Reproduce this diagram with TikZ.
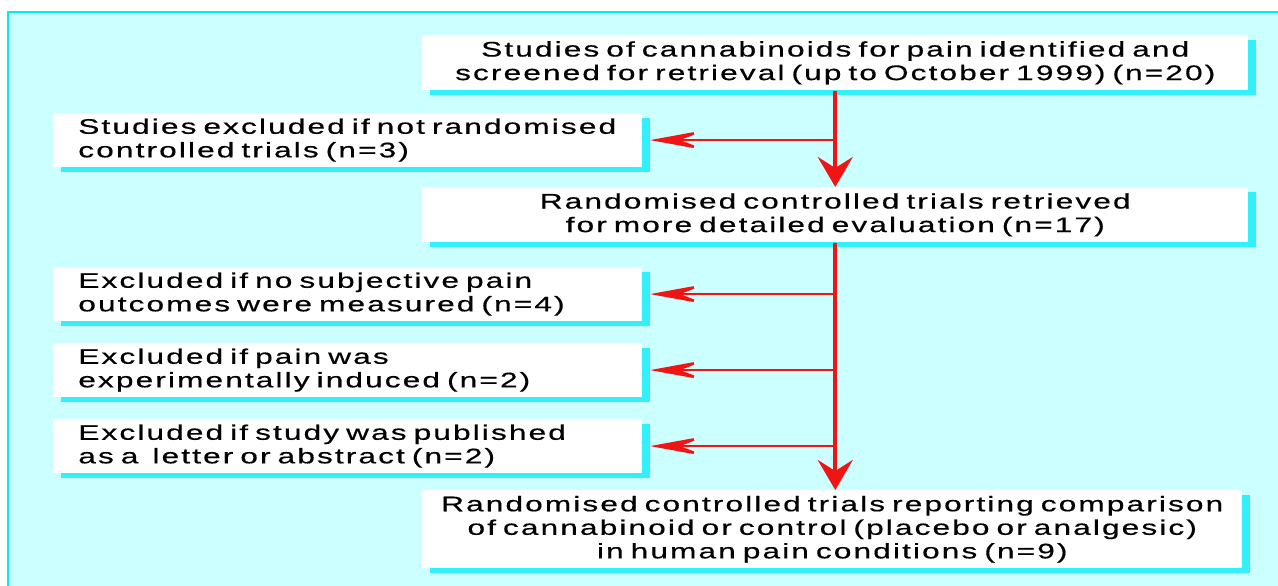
\documentclass[tikz,border=0pt]{standalone}
\usepackage{fontspec}
\newfontfamily\flowfont[FakeStretch=1.5,LetterSpace=10,WordSpace=2.1,FakeBold=0.5]{Liberation Sans}
\definecolor{panelcyan}{RGB}{204,255,255}
\definecolor{rimcyan}{RGB}{0,240,240}
\definecolor{shadecyan}{RGB}{50,240,250}
\definecolor{flowred}{RGB}{240,20,20}
\usetikzlibrary{arrows.meta,positioning,shadows}

\begin{document}
\begin{tikzpicture}[x=0.02cm,y=-0.02cm,
  stagebox/.style={fill=white,anchor=north west,inner sep=0pt,
        minimum width=16.52cm,minimum height=1.1cm,text width=16.4cm,align=center,
        font=\flowfont\fontsize{12}{13.4}\selectfont,
        drop shadow={shadow xshift=0.15cm,shadow yshift=-0.1cm,fill=shadecyan,opacity=1}},
  dropbox/.style={fill=white,anchor=north west,inner xsep=0.5cm,inner ysep=0pt,
        minimum width=11.78cm,minimum height=1.07cm,text width=10.78cm,align=left,
        font=\flowfont\fontsize{12}{13.4}\selectfont,
        drop shadow={shadow xshift=0.15cm,shadow yshift=-0.1cm,fill=shadecyan,opacity=1}},
  trunk/.style={draw=flowred,line width=2.3pt,-{Stealth[length=0.6cm,width=0.7cm,inset=0.22cm]}},
  branch/.style={draw=flowred,line width=1.5pt,-{Stealth[length=1.15cm,width=0.42cm,inset=0.55cm]}}]
  \useasboundingbox (0,0) rectangle (1278,585);
  \clip (0,0) rectangle (1278,585);
  %% background panel
  \draw[fill=panelcyan,draw=rimcyan,line width=1.2pt] (8,12) rectangle (1300,620);
  %% main column
  \node[stagebox] (screened) at (422,35)
        {Studies of cannabinoids for pain identified and\\
         screened for retrieval (up to October 1999) (n=20)};
  \node[stagebox] (retrieved) at (422,187)
        {Randomised controlled trials retrieved\\
         for more detailed evaluation (n=17)};
  \node[stagebox,minimum width=16.26cm,minimum height=1.56cm] (included) at (422,490)
        {Randomised controlled trials reporting comparison\\
         of cannabinoid or control (placebo or analgesic)\\
         in human pain conditions (n=9)};
  %% exclusions
  \node[dropbox] (notrct) at (53,113)
        {Studies excluded if not randomised\\controlled trials (n=3)};
  \node[dropbox] (nopain) at (53,267)
        {Excluded if no subjective pain\\outcomes were measured (n=4)};
  \node[dropbox] (induced) at (53,343)
        {Excluded if pain was\\experimentally induced (n=2)};
  \node[dropbox] (letter) at (53,419)
        {Excluded if study was published\\as a\ \ letter or abstract (n=2)};
  %% junctions on the trunk
  \coordinate (j1) at (screened.south |- notrct.east);
  \coordinate (j2) at (retrieved.south |- nopain.east);
  \coordinate (j3) at (retrieved.south |- induced.east);
  \coordinate (j4) at (retrieved.south |- letter.east);
  %% arrows
  \draw[trunk] (screened.south) -- (retrieved.north);
  \draw[trunk] (retrieved.south) -- (included.north -| retrieved.south);
  \draw[branch] (j1) -- ([xshift=0.15cm]notrct.east);
  \draw[branch] (j2) -- ([xshift=0.15cm]nopain.east);
  \draw[branch] (j3) -- ([xshift=0.15cm]induced.east);
  \draw[branch] (j4) -- ([xshift=0.15cm]letter.east);
\end{tikzpicture}
\end{document}
